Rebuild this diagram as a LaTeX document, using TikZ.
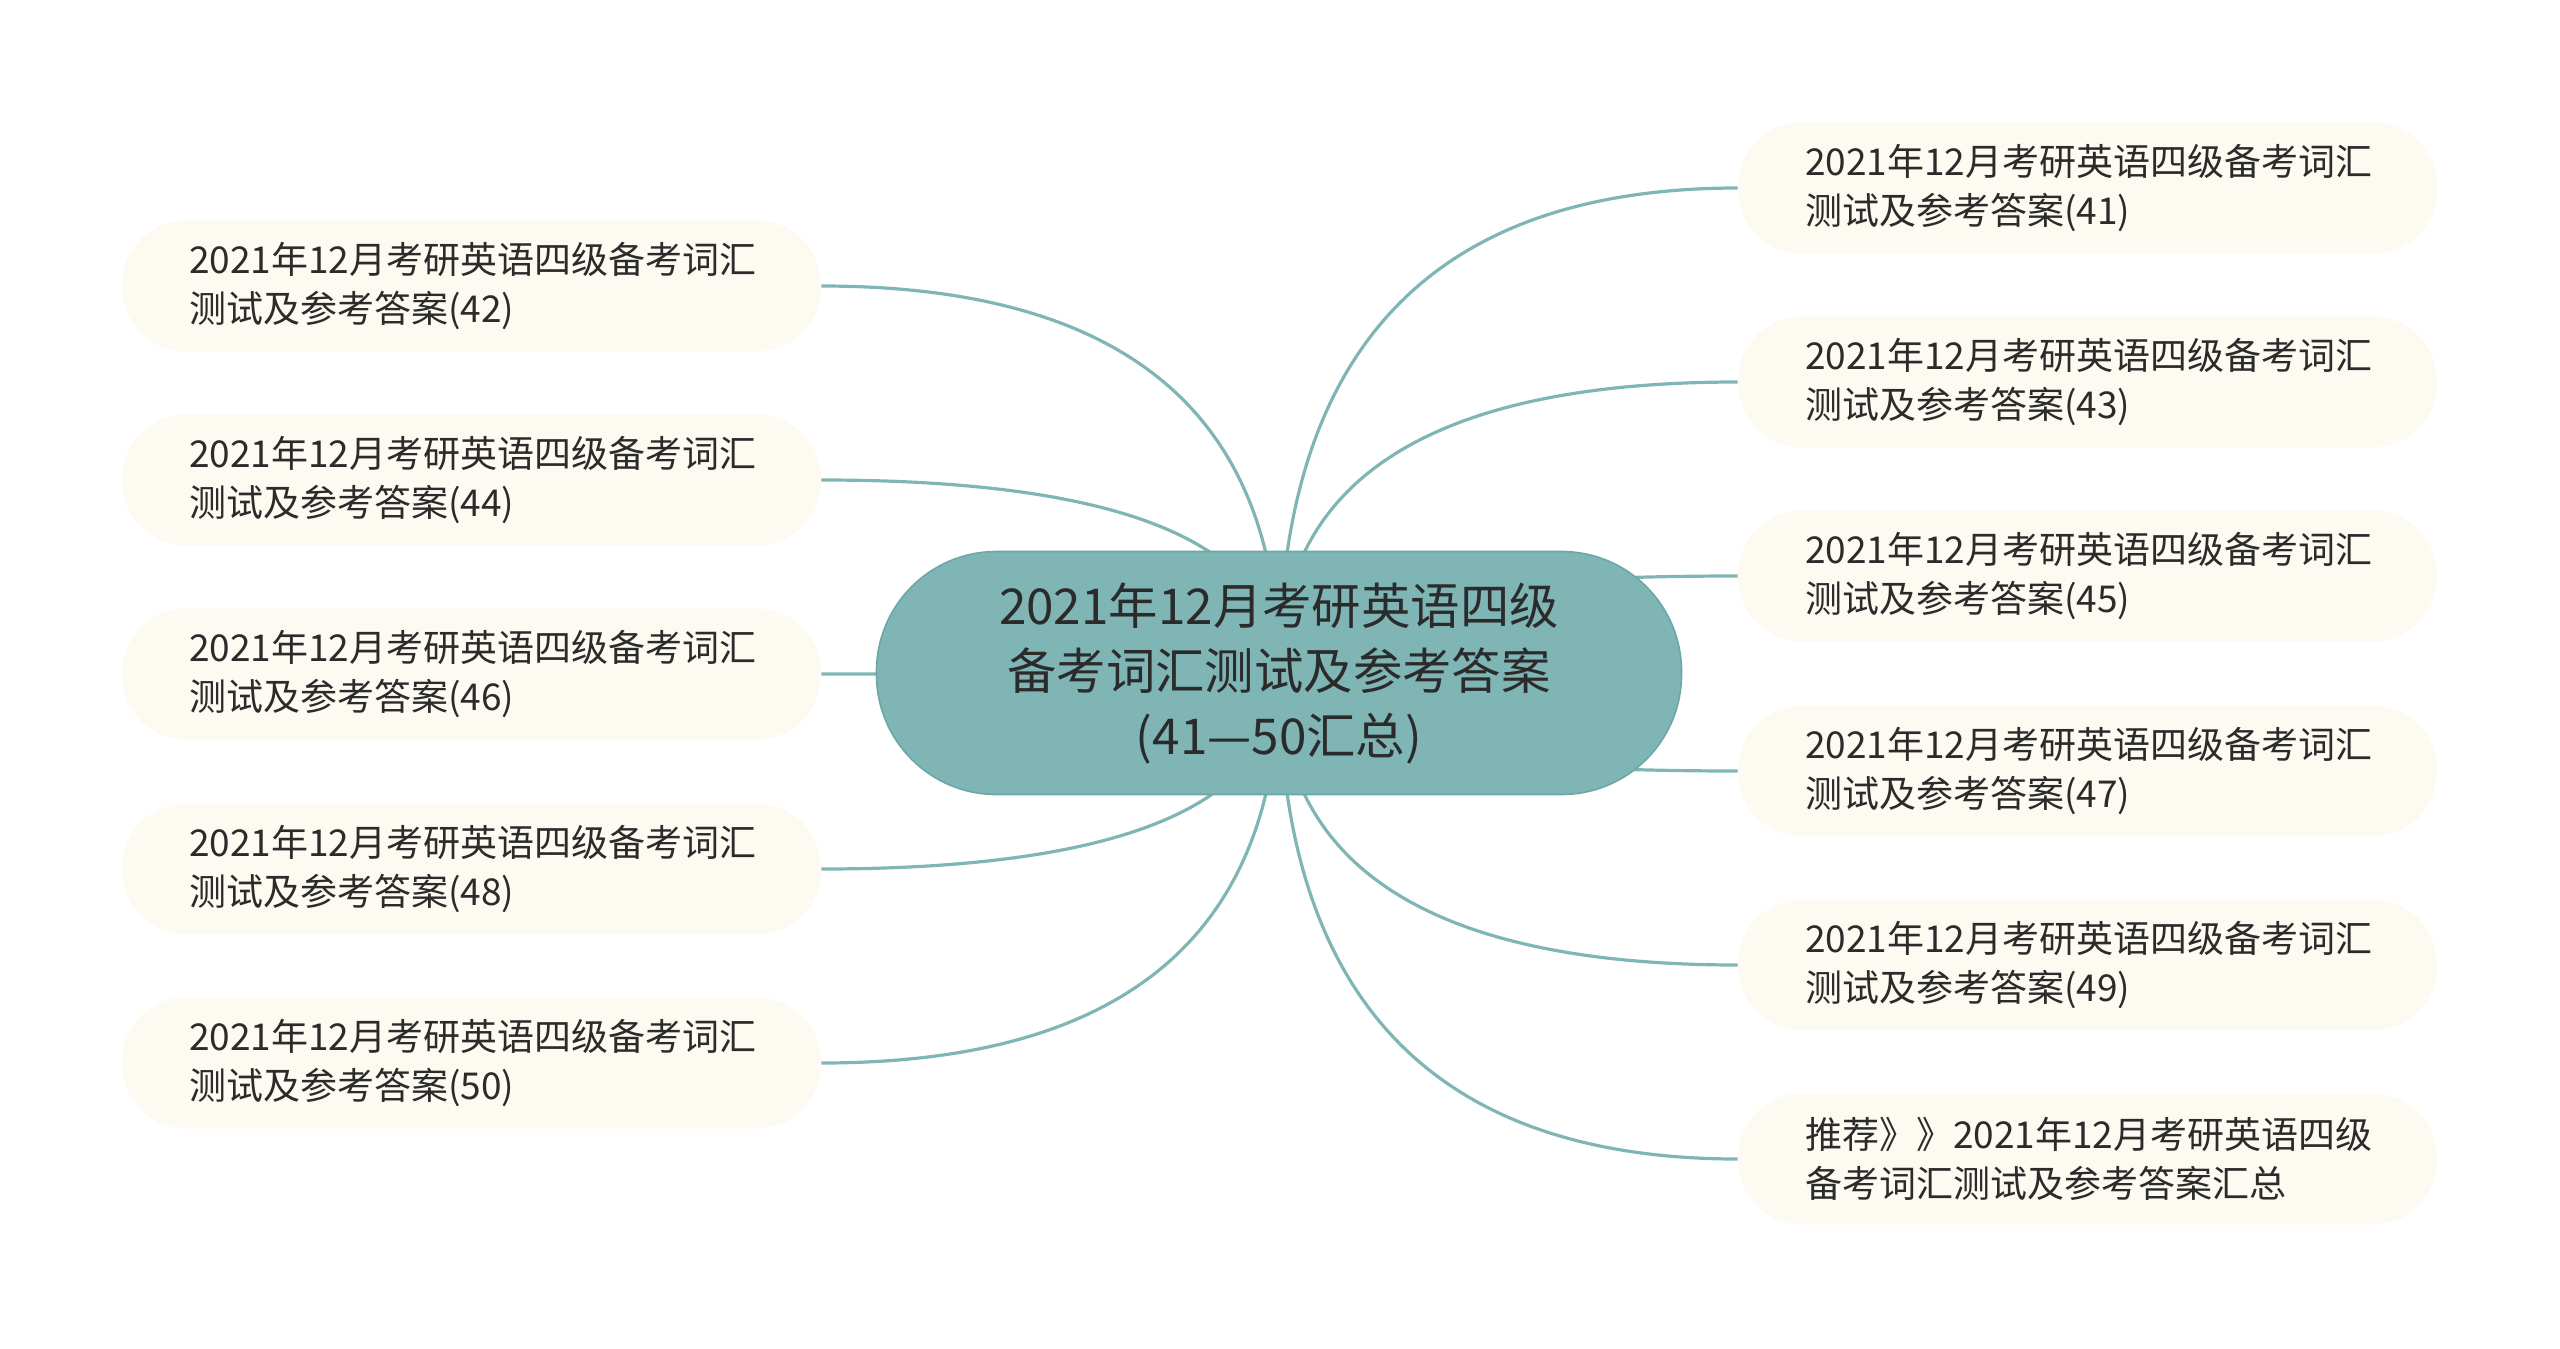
\documentclass[tikz,border=0pt]{standalone}
\usepackage{fontspec}
\setmainfont{Noto Sans CJK SC}
\usetikzlibrary{calc,backgrounds}
\definecolor{mapline}{HTML}{7FB5B5}
\definecolor{rootfill}{HTML}{7FB5B5}
\definecolor{rootdraw}{HTML}{6DA6A6}
\definecolor{leaffill}{HTML}{FCFAF1}
\definecolor{textgray}{HTML}{2B2B2B}
\tikzset{
  leaf/.style={fill=leaffill, rounded corners=32pt, text width=282.5pt, inner xsep=33.5pt,
    inner ysep=0pt, minimum height=65.5pt, align=left, text=textgray,
    font=\fontsize{18.5}{24.5}\selectfont},
  root/.style={fill=rootfill, draw=rootdraw, line width=0.8pt, rounded corners=60pt,
    minimum width=402.5pt, minimum height=121.5pt, align=center, text=textgray,
    font=\fontsize{24.7}{32.5}\selectfont},
  branch/.style={draw=mapline, line width=1.6pt}
}
\begin{document}
\begin{tikzpicture}[x=0.5pt, y=-0.5pt]
    \useasboundingbox (0, 0) rectangle (2560, 1349);
    \node [root] (root) at (1279, 673) {2021年12月考研英语四级\\备考词汇测试及参考答案\\(41—50汇总)};
    % right side
    \node [leaf] (l41) at (2087.5, 188) {2021年12月考研英语四级备考词汇\\测试及参考答案(41)};
    \node [leaf] (l43) at (2087.5, 382) {2021年12月考研英语四级备考词汇\\测试及参考答案(43)};
    \node [leaf] (l45) at (2087.5, 576) {2021年12月考研英语四级备考词汇\\测试及参考答案(45)};
    \node [leaf] (l47) at (2087.5, 771) {2021年12月考研英语四级备考词汇\\测试及参考答案(47)};
    \node [leaf] (l49) at (2087.5, 965) {2021年12月考研英语四级备考词汇\\测试及参考答案(49)};
    \node [leaf] (lsum) at (2087.5, 1159) {推荐》》2021年12月考研英语四级\\备考词汇测试及参考答案汇总};
    % left side
    \node [leaf] (l42) at (471.5, 286) {2021年12月考研英语四级备考词汇\\测试及参考答案(42)};
    \node [leaf] (l44) at (471.5, 480) {2021年12月考研英语四级备考词汇\\测试及参考答案(44)};
    \node [leaf] (l46) at (471.5, 674) {2021年12月考研英语四级备考词汇\\测试及参考答案(46)};
    \node [leaf] (l48) at (471.5, 869) {2021年12月考研英语四级备考词汇\\测试及参考答案(48)};
    \node [leaf] (l50) at (471.5, 1063) {2021年12月考研英语四级备考词汇\\测试及参考答案(50)};
    \begin{scope}[on background layer]
        \foreach \leafname/\side in {l41/west, l43/west, l45/west, l47/west, l49/west, lsum/west,
                                     l42/east, l44/east, l46/east, l48/east, l50/east}
            \draw [branch] (root.center)
                .. controls ($(root.center)!2/3!(root.center |- \leafname.\side)$)
                and ($(\leafname.\side)!2/3!(root.center |- \leafname.\side)$) .. (\leafname.\side);
    \end{scope}
\end{tikzpicture}
\end{document}
